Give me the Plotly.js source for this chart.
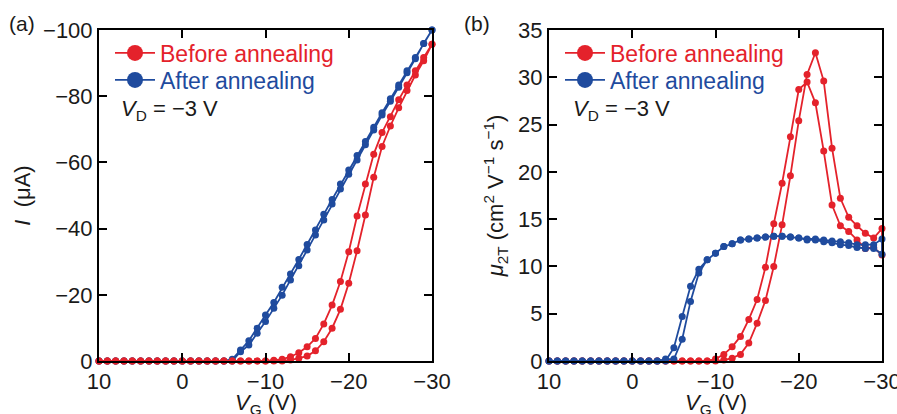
<!DOCTYPE html>
<html><head><meta charset="utf-8">
<script src="https://cdn.plot.ly/plotly-3.0.1.min.js"></script>
<style>html,body{margin:0;padding:0;background:#fff}#chart{width:897px;height:414px}</style>
</head><body><div id="chart"></div>
<script>
// Gate voltage steps (V), forward sweep order
const vg = [10,9,8,7,6,5,4,3,2,1,0,-1,-2,-3,-4,-5,-6,-7,-8,-9,-10,-11,-12,-13,-14,-15,-16,-17,-18,-19,-20,-21,-22,-23,-24,-25,-26,-27,-28,-29,-30];

// Panel (a): drain current I (uA), listed in vg order
const iBeforeFwd = [0,0,0,0,0,0,0,0,0,0,0,0,0,0,0,0,0,0,0,0,0,0,0,-0.3,-0.8,-1.5,-3.1,-5.8,-9.9,-15.6,-23.5,-33.3,-44.1,-55.5,-64.8,-71.0,-76.5,-81.7,-86.4,-90.7,-95.7];
const iBeforeBwd = [0,0,0,0,0,0,0,0,0,0,0,0,0,0,0,0,0,0,0,0,0,-0.2,-0.5,-1.3,-2.5,-4.3,-6.8,-11.2,-16.9,-24.0,-33.0,-43.8,-53.5,-62.5,-69.0,-73.8,-78.9,-83.4,-87.7,-91.7,-95.7];
const iAfterFwd = [0,0,0,0,0,0,0,0,0,0,0,0,0,0,0,0,0,-2.8,-4.8,-8.4,-11.9,-15.9,-19.9,-24.5,-28.8,-33.5,-38.1,-42.6,-47.4,-52.0,-56.4,-60.7,-65.3,-69.8,-74.3,-78.5,-82.7,-87.1,-91.3,-95.9,-100];
const iAfterBwd = [0,0,0,0,0,0,0,0,0,0,0,0,0,0,0,0,-0.5,-3.3,-6.1,-9.9,-13.9,-17.7,-22.3,-26.3,-30.7,-35.2,-39.6,-44.3,-48.8,-53.5,-57.7,-62.1,-66.3,-70.6,-75.0,-79.2,-83.4,-87.7,-91.7,-95.9,-100];

// Panel (b): two-terminal mobility (cm2 V-1 s-1), listed in vg order
const muBeforeFwd = [0,0,0,0,0,0,0,0,0,0,0,0,0,0,0,0,0,0,0,0,0,0.1,0.3,0.7,1.9,4.0,6.4,10.0,14.4,19.6,25.4,30.3,32.6,29.6,22.5,17.2,15.2,14.3,13.5,13.0,14.0];
const muBeforeBwd = [0,0,0,0,0,0,0,0,0,0,0,0,0,0,0,0,0,0,0,0,0.2,0.7,1.5,2.6,4.4,6.5,9.9,14.5,18.8,23.7,28.7,29.5,27.3,22.2,16.5,14.3,13.7,12.8,11.9,12.0,11.2];
const muAfterFwd = [0,0,0,0,0,0,0,0,0,0,0,0,0,0,0.2,0.2,2.3,6.3,9.3,10.7,11.4,12.1,12.4,12.8,12.9,13.0,13.1,13.2,13.2,13.1,13.0,12.9,12.9,12.8,12.7,12.6,12.5,12.3,12.3,12.3,12.9];
const muAfterBwd = [0,0,0,0,0,0,0,0,0,0,0,0,0,0,0,1.4,4.7,7.9,9.7,10.7,11.4,12.1,12.4,12.8,12.9,13.0,13.1,13.2,13.2,13.1,13.0,12.8,12.8,12.6,12.5,12.3,12.2,12.0,11.9,11.9,11.3];

const xTicks = [10,0,-10,-20,-30];
const xTickText = ['10','0','\u221210','\u221220','\u221230'];
const yTicksA = [0,-20,-40,-60,-80,-100];
const yTickTextA = ['0','\u221220','\u221240','\u221260','\u221280','\u2212100'];
const yTicksB = [0,5,10,15,20,25,30,35];
const seriesNames = ['Before annealing','After annealing'];
const xTitle = '<i>V</i><sub>G</sub> (V)';

const RED = '#e4222b', BLUE = '#1f4b9e', INK = '#1a1a1a';
const W = 897, H = 414, L = 99, R = 15, T = 30, B = 53;
const pw = W - L - R, ph = H - T - B;
const px = v => (v - L) / pw;
const py = v => (H - B - v) / ph;

const loopX = vg.concat(vg.slice().reverse());
const loop = (f, b) => f.concat(b.slice().reverse());

function curve(xa, ya, y, color) {
  return {x: loopX, y: y, xaxis: xa, yaxis: ya, type: 'scatter', mode: 'lines+markers',
    line: {color: color, width: 1.8}, marker: {color: color, size: 7},
    cliponaxis: false, showlegend: false, hoverinfo: 'skip'};
}
function key(xa, ya, name, color, lg) {
  return {x: [null], y: [null], xaxis: xa, yaxis: ya, type: 'scatter', mode: 'lines+markers',
    name: name, legend: lg, line: {color: color, width: 1.8}, marker: {color: color, size: 16}, showlegend: true};
}

const data = [
  curve('x', 'y', loop(iAfterFwd, iAfterBwd), BLUE),
  curve('x', 'y', loop(iBeforeFwd, iBeforeBwd), RED),
  curve('x2', 'y2', loop(muBeforeFwd, muBeforeBwd), RED),
  curve('x2', 'y2', loop(muAfterFwd, muAfterBwd), BLUE),
  key('x', 'y', seriesNames[0], RED, 'legend'),
  key('x', 'y', seriesNames[1], BLUE, 'legend2'),
  key('x2', 'y2', seriesNames[0], RED, 'legend3'),
  key('x2', 'y2', seriesNames[1], BLUE, 'legend4')
];

const axBase = {showline: true, linecolor: '#000', linewidth: 2, mirror: 'ticks', ticks: 'inside',
  ticklen: 8, tickwidth: 2, tickcolor: '#000', showgrid: false, zeroline: false,
  tickfont: {size: 22, color: INK}, automargin: false, fixedrange: true, ticklabeloverflow: 'allow'};

function lg(xp, yp, color) {
  return {x: px(xp), y: py(yp), xanchor: 'left', yanchor: 'middle', bgcolor: 'rgba(0,0,0,0)',
    borderwidth: 0, font: {size: 23, color: color}, itemwidth: 40, tracegroupgap: 0};
}

const layout = {
  width: W, height: H, margin: {l: L, r: R, t: T, b: B},
  paper_bgcolor: '#fff', plot_bgcolor: '#fff',
  font: {family: 'Liberation Sans, Arial, sans-serif', color: INK, size: 22},
  xaxis: Object.assign({}, axBase, {domain: [0, px(432)], range: [10, -30], tickvals: xTicks, ticktext: xTickText, anchor: 'y'}),
  yaxis: Object.assign({}, axBase, {domain: [0, 1], range: [0, -100], tickvals: yTicksA, ticktext: yTickTextA,
    anchor: 'x', title: {text: '<i>I</i>\u00a0\u00a0(\u03bcA)', font: {size: 22}, standoff: 6}}),
  xaxis2: Object.assign({}, axBase, {domain: [px(549), 1], range: [10, -30], tickvals: xTicks, ticktext: xTickText, anchor: 'y2'}),
  yaxis2: Object.assign({}, axBase, {domain: [0, 1], range: [0, 35], tickvals: yTicksB,
    anchor: 'x2', title: {text: '<i>\u03bc</i><sub>2T</sub> (cm<sup>2</sup> V<sup>\u22121</sup> s<sup>\u22121</sup>)', font: {size: 22}, standoff: 8}}),
  legend: lg(110, 53, RED),
  legend2: lg(110, 80, BLUE),
  legend3: lg(560, 53, RED),
  legend4: lg(560, 80, BLUE),
  annotations: [
    {xref: 'paper', yref: 'paper', x: px(22), y: py(24), xanchor: 'center', yanchor: 'middle', text: '(a)', showarrow: false, font: {size: 21, color: INK}},
    {xref: 'paper', yref: 'paper', x: px(477), y: py(24), xanchor: 'center', yanchor: 'middle', text: '(b)', showarrow: false, font: {size: 21, color: INK}},
    {xref: 'paper', yref: 'paper', x: px(119), y: py(110), xanchor: 'left', yanchor: 'middle', text: '<i>V</i><sub>D</sub> = \u22123 V', showarrow: false, font: {size: 22, color: INK}},
    {xref: 'paper', yref: 'paper', x: px(571), y: py(110), xanchor: 'left', yanchor: 'middle', text: '<i>V</i><sub>D</sub> = \u22123 V', showarrow: false, font: {size: 22, color: INK}},
    {xref: 'paper', yref: 'paper', x: px(266), y: py(404), xanchor: 'center', yanchor: 'middle', text: xTitle, showarrow: false, font: {size: 22, color: INK}},
    {xref: 'paper', yref: 'paper', x: px(716), y: py(404), xanchor: 'center', yanchor: 'middle', text: xTitle, showarrow: false, font: {size: 22, color: INK}}
  ]
};

Plotly.newPlot('chart', data, layout, {displayModeBar: false, staticPlot: true});
</script></body></html>
